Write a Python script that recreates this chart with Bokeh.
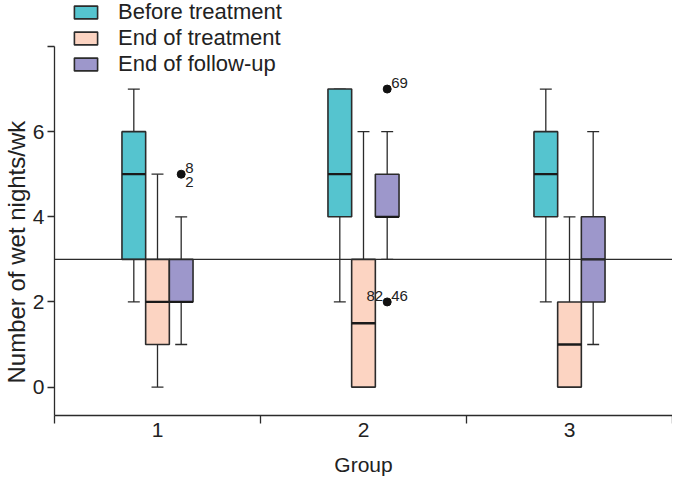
from bokeh.plotting import figure
from bokeh.models import ColumnDataSource, FixedTicker, Span, Legend, LegendItem, Title
from bokeh.core.properties import value
from bokeh.embed import file_html
from bokeh.resources import INLINE

# ---------------- data ----------------
groups = [1, 2, 3]
series = ["Before treatment", "End of treatment", "End of follow-up"]

before_low = [2, 2, 2]
before_q1 = [3, 4, 4]
before_med = [5, 5, 5]
before_q3 = [6, 7, 6]
before_high = [7, 7, 7]

end_low = [0, 0, 0]
end_q1 = [1, 0, 0]
end_med = [2, 1.5, 1]
end_q3 = [3, 3, 2]
end_high = [5, 6, 4]

follow_low = [1, 3, 1]
follow_q1 = [2, 4, 2]
follow_med = [2, 4, 3]
follow_q3 = [3, 5, 4]
follow_high = [4, 6, 6]

# outliers (all in "End of follow-up")
outlier_group = [1, 2, 2]
outlier_value = [5, 7, 2]

# case numbers next to outliers
case_group = [1, 1, 2, 2, 2]
case_value = [5, 5, 7, 2, 2]
case_id = ["8", "2", "69", "82", "46"]
case_place = ["above", "below", "above", "left", "above"]

y_ticks = [0, 2, 4, 6, 8]
y_axis_bounds = (-0.667, 8)
reference_level = 3
y_title = "Number of wet nights/wk"
x_title = "Group"

# ---------------- style ----------------
colors = ["#55C4CF", "#FCD4C2", "#9D97CB"]
offsets = [-0.115, 0.0, 0.115]
box_w = 0.115
cap_w = 0.058
dark = "#2b2b2b"
FONT = "Liberation Sans"

FRAME_W, FRAME_H = 618, 415
Y_MAX = 9.08
LEGEND_H = 75

stats = [
    (before_low, before_q1, before_med, before_q3, before_high),
    (end_low, end_q1, end_med, end_q3, end_high),
    (follow_low, follow_q1, follow_med, follow_q3, follow_high),
]

p = figure(frame_width=FRAME_W, frame_height=FRAME_H,
           x_range=(0.5, 3.5), y_range=(y_axis_bounds[0], Y_MAX),
           output_backend="svg", toolbar_location=None,
           min_border_left=0, min_border_right=0,
           min_border_top=0, min_border_bottom=0)
p.outline_line_color = None
p.xgrid.visible = False
p.ygrid.visible = False
p.background_fill_color = "white"

box_renderers = []
for k, (lo, q1, med, q3, hi) in enumerate(stats):
    xs = [g + offsets[k] for g in groups]
    src = ColumnDataSource(dict(
        x=xs, lo=lo, q1=q1, med=med, q3=q3, hi=hi,
        xl=[x - box_w / 2 for x in xs], xr=[x + box_w / 2 for x in xs],
        cl=[x - cap_w / 2 for x in xs], cr=[x + cap_w / 2 for x in xs],
    ))
    p.segment(x0="x", y0="q3", x1="x", y1="hi", source=src, line_color=dark, line_width=1.3)
    p.segment(x0="x", y0="lo", x1="x", y1="q1", source=src, line_color=dark, line_width=1.3)
    p.segment(x0="cl", y0="hi", x1="cr", y1="hi", source=src, line_color=dark, line_width=1.3)
    p.segment(x0="cl", y0="lo", x1="cr", y1="lo", source=src, line_color=dark, line_width=1.3)
    r = p.vbar(x="x", width=box_w, bottom="q1", top="q3", source=src,
               fill_color=colors[k], line_color=dark, line_width=1.6)
    box_renderers.append(r)
    p.segment(x0="xl", y0="med", x1="xr", y1="med", source=src, line_color="#1a1a1a", line_width=2.3)

p.add_layout(Span(location=reference_level, dimension="width", line_color=dark, line_width=1.3))

# outliers
osrc = ColumnDataSource(dict(x=[g + offsets[2] for g in outlier_group], y=outlier_value))
p.scatter(x="x", y="y", source=osrc, size=8, fill_color="#111111", line_color="#111111")

place_style = {
    "above": dict(x_offset=4, y_offset=-1, text_align="left", text_baseline="bottom"),
    "below": dict(x_offset=4, y_offset=3, text_align="left", text_baseline="top"),
    "left": dict(x_offset=-4, y_offset=-1, text_align="right", text_baseline="bottom"),
}
for place, st in place_style.items():
    idx = [i for i, pl in enumerate(case_place) if pl == place]
    csrc = ColumnDataSource(dict(
        x=[case_group[i] + offsets[2] for i in idx],
        y=[case_value[i] for i in idx],
        t=[case_id[i] for i in idx]))
    p.text(x="x", y="y", text="t", source=csrc, text_font=value(FONT),
           text_font_size="15px", text_color="#222222", **st)

# axes
p.xaxis.ticker = FixedTicker(ticks=groups, minor_ticks=[0.5, 1.5, 2.5, 3.5])
p.xaxis.major_tick_out = 0
p.xaxis.major_tick_in = 0
p.xaxis.minor_tick_out = 8
p.xaxis.minor_tick_in = 0
p.xaxis.major_label_standoff = -1
p.xaxis.axis_label = x_title
p.xaxis.axis_label_standoff = 13

p.yaxis.ticker = FixedTicker(ticks=y_ticks)
p.yaxis.bounds = y_axis_bounds
p.yaxis.major_label_overrides = {8: ""}
p.yaxis.major_tick_out = 7
p.yaxis.major_tick_in = 0
p.yaxis.minor_tick_out = 0
p.yaxis.minor_tick_in = 0
p.yaxis.major_label_standoff = 3

for ax in (p.xaxis[0], p.yaxis[0]):
    ax.axis_line_color = dark
    ax.axis_line_width = 1.3
    ax.major_tick_line_color = dark
    ax.minor_tick_line_color = dark
    ax.major_tick_line_width = 1.3
    ax.minor_tick_line_width = 1.3
    ax.major_label_text_font = FONT
    ax.major_label_text_font_size = "21px"
    ax.major_label_text_color = "#222222"
    ax.axis_label_text_font = FONT
    ax.axis_label_text_font_style = "normal"
    ax.axis_label_text_color = "#222222"
p.xaxis.axis_label_text_font_size = "21px"

# y-axis title, placed along the left side (anchored at its start)
p.add_layout(Title(text=y_title, align="left", offset=32, standoff=0,
                   text_font=FONT, text_font_size="24px", text_font_style="normal",
                   text_color="#222222"), "left")

legend = Legend(
    items=[LegendItem(label=s, renderers=[r]) for s, r in zip(series, box_renderers)],
    location=(17, FRAME_H - LEGEND_H - 2),
    orientation="vertical",
    padding=0, margin=0, spacing=0,
    glyph_width=29, glyph_height=16, label_standoff=18,
    label_text_font=FONT, label_text_font_size="22px", label_text_color="#222222",
    label_height=24,
    background_fill_alpha=0, border_line_alpha=0,
)
p.add_layout(legend, "center")

open("out.html", "w").write(file_html(p, INLINE))
